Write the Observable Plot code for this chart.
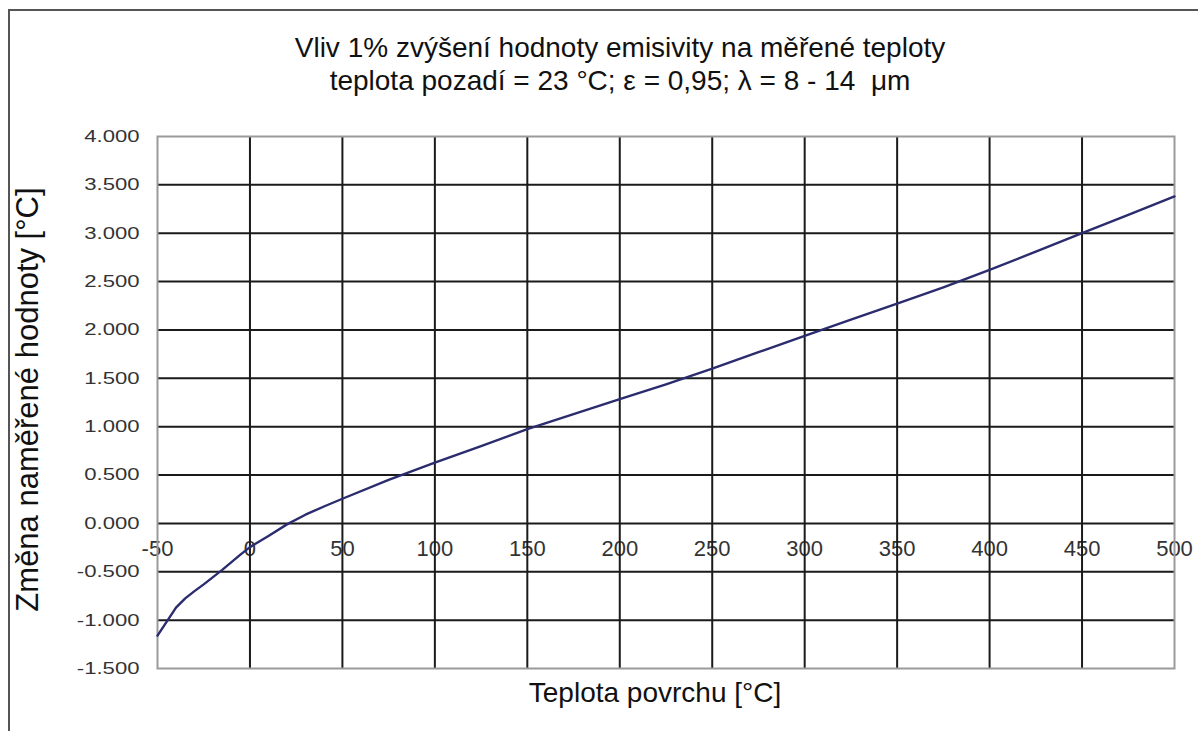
<!DOCTYPE html>
<html>
<head>
<meta charset="utf-8">
<script src="https://cdn.jsdelivr.net/npm/d3@7"></script>
<script src="https://cdn.jsdelivr.net/npm/@observablehq/plot@0.6"></script>
<style>
  html, body { margin: 0; padding: 0; background: #fff; }
  #page { position: relative; width: 1198px; height: 731px; overflow: hidden; font-family: "Liberation Sans", Arial, sans-serif; }
  #border { position: absolute; left: 8px; top: 9px; width: 1200px; height: 740px; border-left: 2px solid #555; border-top: 2px solid #555; }
  #title { position: absolute; left: 0; top: 31px; width: 1240px; text-align: center; font-size: 28px; line-height: 33px; color: #111; white-space: pre; }
  #chart { position: absolute; left: 0; top: 0; }
</style>
</head>
<body>
<div id="page">
  <div id="border"></div>
  <div id="title">Vliv 1% zvýšení hodnoty emisivity na měřené teploty
teplota pozadí = 23 °C; ε = 0,95; λ = 8 - 14  μm</div>
  <div id="chart"></div>
</div>
<script>
// Surface temperature [°C] and the resulting change of the measured value [°C]
const surfaceTemp = [-50, -45, -40, -35, -30, -25, -20, -15, -10, -5, 0, 10, 20, 30, 40, 50,
  75, 100, 125, 150, 175, 200, 225, 250, 275, 300, 325, 350, 375, 400, 425, 450, 475, 500];
const measuredChange = [-1.16, -1.015, -0.87, -0.775, -0.70, -0.63, -0.555, -0.48, -0.40, -0.32, -0.245,
  -0.13, -0.01, 0.09, 0.175, 0.255, 0.45, 0.628, 0.80, 0.974, 1.13, 1.284, 1.438, 1.60, 1.77, 1.94,
  2.107, 2.273, 2.44, 2.62, 2.81, 3.00, 3.19, 3.38];

const xTicks = [-50, 0, 50, 100, 150, 200, 250, 300, 350, 400, 450, 500];
const yTicks = [-1.5, -1.0, -0.5, 0, 0.5, 1.0, 1.5, 2.0, 2.5, 3.0, 3.5, 4.0];
const xTitle = "Teplota povrchu [°C]";
const yTitle = "Změna naměřené hodnoty [°C]";

const series = surfaceTemp.map((t, i) => ({t, v: measuredChange[i]}));
const innerX = xTicks.slice(1, -1);
const innerY = yTicks.slice(1, -1);
// three decimals, plain hyphen for negatives
const fmt3 = d => d3.format(".3f")(d).replace("\u2212", "-");

const chart = Plot.plot({
  width: 1198,
  height: 731,
  marginLeft: 157,
  marginRight: 24,
  marginTop: 136,
  marginBottom: 63,
  style: {fontFamily: "Liberation Sans, Arial, sans-serif", background: "transparent"},
  x: {domain: [-50, 500], axis: null},
  y: {domain: [-1.5, 4.0], axis: null},
  marks: [
    // x tick labels sit just under the zero line, crossed by the grid
    Plot.text(xTicks, {x: d => d, y: 0, dy: 26, text: d => String(d), fontSize: 22, fill: "#333"}),
    Plot.ruleX(innerX, {stroke: "#1a1a1a", strokeWidth: 2}),
    Plot.ruleY(innerY, {stroke: "#1a1a1a", strokeWidth: 2}),
    Plot.frame({stroke: "#9a9a9a", strokeWidth: 2}),
    Plot.text(yTicks, {frameAnchor: "left", y: d => d, dx: -18, textAnchor: "end", text: fmt3, fontSize: 17, fill: "#333"}),
    Plot.line(series, {x: "t", y: "v", stroke: "#2a2c6e", strokeWidth: 2.4}),
    Plot.text([yTitle], {frameAnchor: "left", dx: -129, dy: -3, rotate: -90, textAnchor: "middle", fontSize: 31, fill: "#111"}),
    Plot.text([xTitle], {frameAnchor: "bottom", dy: 33, dx: -11, textAnchor: "middle", fontSize: 28, fill: "#111"})
  ]
});
document.getElementById("chart").appendChild(chart);

// y tick labels are drawn wide: stretch their glyphs horizontally
d3.select(chart).selectAll("text")
  .filter(function () { return /^-?\d\.\d{3}$/.test(this.textContent); })
  .each(function () {
    const w = this.getComputedTextLength();
    this.setAttribute("textLength", (w * 1.3).toFixed(1));
    this.setAttribute("lengthAdjust", "spacingAndGlyphs");
  });
</script>
</body>
</html>
